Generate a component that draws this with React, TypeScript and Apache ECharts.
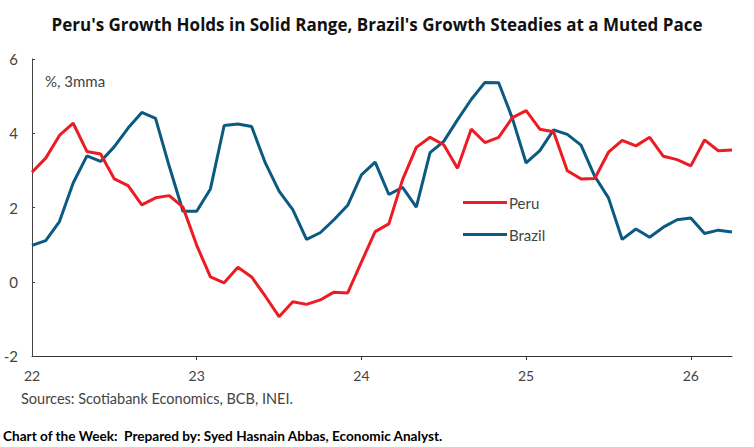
import React, { useEffect, useRef } from "react";
import * as echarts from "echarts";

const months: string[] = [];
for (let y = 22; y <= 26; y++) {
  for (let m = 1; m <= 12; m++) {
    if (y === 26 && m > 4) break;
    months.push(`${m}/${y}`);
  }
}

const peru = [
  2.95, 3.33, 3.94, 4.27, 3.51, 3.44, 2.77, 2.59, 2.07, 2.26, 2.32, 2.01,
  0.98, 0.13, -0.03, 0.39, 0.13, -0.39, -0.94, -0.54, -0.61, -0.49, -0.28, -0.3,
  0.53, 1.35, 1.56, 2.75, 3.62, 3.89, 3.69, 3.06, 4.11, 3.75, 3.89, 4.42,
  4.61, 4.11, 4.04, 2.99, 2.77, 2.78, 3.49, 3.81, 3.66, 3.89, 3.38, 3.29,
  3.12, 3.82, 3.53, 3.55,
];

const brazil = [
  0.98, 1.11, 1.62, 2.66, 3.39, 3.24, 3.64, 4.14, 4.56, 4.4, 3.11, 1.9,
  1.9, 2.5, 4.21, 4.25, 4.18, 3.2, 2.44, 1.94, 1.14, 1.32, 1.67, 2.06,
  2.88, 3.22, 2.35, 2.54, 2.01, 3.48, 3.78, 4.36, 4.91, 5.37, 5.36, 4.4,
  3.2, 3.53, 4.09, 3.97, 3.68, 2.84, 2.26, 1.14, 1.42, 1.2, 1.47, 1.67,
  1.72, 1.3, 1.39, 1.34,
];

const yTicks = [-2, 0, 2, 4, 6];

const title = "Peru's Growth Holds in Solid Range, Brazil's Growth Steadies at a Muted Pace";
const unitNote = "%, 3mma";
const sources = "Sources: Scotiabank Economics, BCB, INEI.";
const footer = "Chart of the Week:  Prepared by: Syed Hasnain Abbas, Economic Analyst.";

const RED = "#ED1C24";
const BLUE = "#0B5A82";
const FONT = "Lato";

const isJan = (i: number) => !!months[i] && months[i].startsWith("1/");

export default function App() {
  const ref = useRef<HTMLDivElement>(null);
  useEffect(() => {
    if (!ref.current) return;
    const chart = echarts.init(ref.current, undefined, { renderer: "svg" });
    chart.setOption({
      animation: false,
      backgroundColor: "#ffffff",
      textStyle: { fontFamily: FONT },
      title: {
        text: title,
        left: "center",
        top: 11,
        textStyle: { fontFamily: "Open Sans", fontWeight: "bold", fontSize: 17, color: "#111" },
      },
      legend: {
        orient: "vertical",
        left: 458,
        top: 189,
        icon: "rect",
        itemWidth: 44,
        itemHeight: 3,
        itemGap: 15,
        textStyle: { fontFamily: FONT, fontSize: 15, color: "#444", padding: [0, 0, 0, -3], lineHeight: 17 },
        data: ["Peru", "Brazil"],
      },
      graphic: [
        { type: "text", left: 45, top: 73, style: { text: unitNote, fontFamily: FONT, fontSize: 15, fill: "#444" } },
        { type: "text", left: 21, top: 391, style: { text: sources, fontFamily: FONT, fontSize: 14.5, fill: "#444" } },
        { type: "text", left: 3, top: 429, style: { text: footer, fontFamily: FONT, fontSize: 13.6, fontWeight: "bold", fill: "#000" } },
      ],
      grid: { left: 32, right: 22, top: 59, bottom: 91, containLabel: false },
      xAxis: [
        {
          type: "category",
          data: months,
          boundaryGap: false,
          position: "bottom",
          axisLine: { show: false },
          axisTick: { show: false },
          axisLabel: {
            interval: (i: number) => isJan(i),
            formatter: (v: string) => v.split("/")[1],
            fontFamily: FONT,
            fontSize: 14,
            color: "#444",
            margin: 12,
          },
        },
        {
          type: "category",
          data: months,
          boundaryGap: false,
          position: "bottom",
          axisLine: { show: true, onZero: true, lineStyle: { color: "#333", width: 1 } },
          axisTick: { show: true, interval: (i: number) => isJan(i) && i > 0, length: 4, lineStyle: { color: "#333" } },
          axisLabel: { show: false },
        },
      ],
      yAxis: {
        type: "value",
        min: -2,
        max: 6,
        interval: 2,
        axisLine: { show: true, lineStyle: { color: "#444" } },
        axisTick: { show: true, inside: true, length: 3, lineStyle: { color: "#444" } },
        splitLine: { show: false },
        axisLabel: {
          fontFamily: FONT,
          fontSize: 15,
          color: "#444",
          margin: 14,
          formatter: (v: number) => (yTicks.includes(v) ? String(v) : ""),
        },
      },
      series: [
        {
          name: "Peru",
          type: "line",
          data: peru,
          xAxisIndex: 0,
          symbol: "none",
          lineStyle: { color: RED, width: 3 },
          itemStyle: { color: RED },
          z: 3,
        },
        {
          name: "Brazil",
          type: "line",
          data: brazil,
          xAxisIndex: 0,
          symbol: "none",
          lineStyle: { color: BLUE, width: 3 },
          itemStyle: { color: BLUE },
          z: 2,
        },
      ],
    });
    return () => chart.dispose();
  }, []);
  return <div ref={ref} style={{ width: 754, height: 447, position: "absolute", left: 0, top: 0 }} />;
}
